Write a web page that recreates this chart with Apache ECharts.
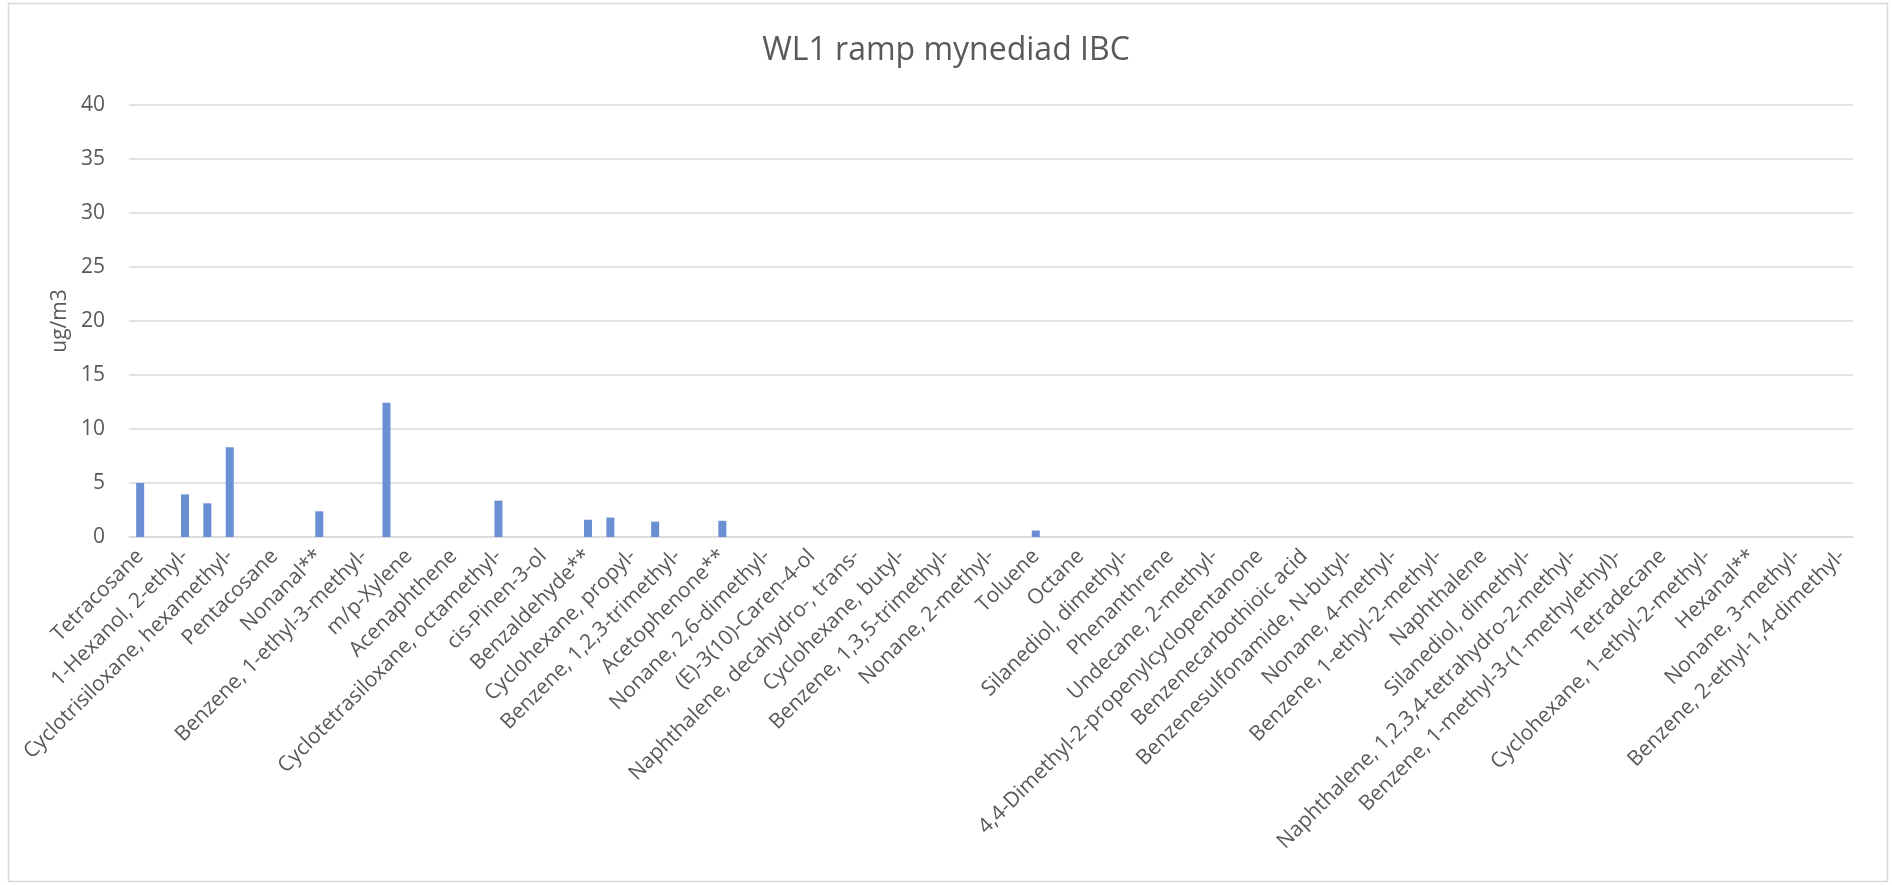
<!DOCTYPE html>
<html>
<head>
<meta charset="utf-8">
<script src="https://cdn.jsdelivr.net/npm/echarts@6/dist/echarts.min.js"></script>
<style>
html,body{margin:0;padding:0;background:#fff;}
#chart{width:1892px;height:885px;}
</style>
</head>
<body>
<div id="chart"></div>
<script>
// Labels shown on the axis (every other category)
const shownLabels = [
  "Tetracosane", "1-Hexanol, 2-ethyl-", "Cyclotrisiloxane, hexamethyl-", "Pentacosane",
  "Nonanal**", "Benzene, 1-ethyl-3-methyl-", "m/p-Xylene", "Acenaphthene",
  "Cyclotetrasiloxane, octamethyl-", "cis-Pinen-3-ol", "Benzaldehyde**", "Cyclohexane, propyl-",
  "Benzene, 1,2,3-trimethyl-", "Acetophenone**", "Nonane, 2,6-dimethyl-", "(E)-3(10)-Caren-4-ol",
  "Naphthalene, decahydro-, trans-", "Cyclohexane, butyl-", "Benzene, 1,3,5-trimethyl-", "Nonane, 2-methyl-",
  "Toluene", "Octane", "Silanediol, dimethyl-", "Phenanthrene",
  "Undecane, 2-methyl-", "4,4-Dimethyl-2-propenylcyclopentanone", "Benzenecarbothioic acid", "Benzenesulfonamide, N-butyl-",
  "Nonane, 4-methyl-", "Benzene, 1-ethyl-2-methyl-", "Naphthalene", "Silanediol, dimethyl-",
  "Naphthalene, 1,2,3,4-tetrahydro-2-methyl-", "Benzene, 1-methyl-3-(1-methylethyl)-", "Tetradecane", "Cyclohexane, 1-ethyl-2-methyl-",
  "Hexanal**", "Nonane, 3-methyl-", "Benzene, 2-ethyl-1,4-dimethyl-"
];
// Non-zero values: category index -> value (ug/m3)
const valueIndex = [0, 2, 3, 4, 8, 11, 16, 20, 21, 23, 26, 40];
const valueAmount = [5.0, 3.95, 3.12, 8.31, 2.38, 12.42, 3.37, 1.6, 1.8, 1.42, 1.5, 0.6];
const yTicks = {min: 0, max: 40, interval: 5};

// Build the 77 categories: labelled ones at even positions, unlabelled ones between
const categoryCount = shownLabels.length * 2 - 1;
const categories = [];
for (let i = 0; i < categoryCount; i++) {
  categories.push(i % 2 === 0 ? shownLabels[i / 2] : "");
}
const values = new Array(categoryCount).fill(0);
valueIndex.forEach((idx, k) => { values[idx] = valueAmount[k]; });

const font = "'Open Sans', 'Noto Sans', sans-serif";
const chart = echarts.init(document.getElementById('chart'), null, {renderer: 'canvas'});
chart.setOption({
  animation: false,
  backgroundColor: '#ffffff',
  title: {
    text: 'WL1 ramp mynediad IBC',
    left: 'center',
    top: 30,
    textStyle: {fontFamily: font, fontSize: 32, fontWeight: 'normal', color: '#595959'}
  },
  graphic: [{
    type: 'rect',
    shape: {x: 8.5, y: 3.5, width: 1879, height: 878},
    style: {fill: 'none', stroke: '#d9d9d9', lineWidth: 1.5},
    silent: true
  }],
  grid: {left: 129, right: 39, top: 105, bottom: 348, containLabel: false},
  xAxis: {
    type: 'category',
    data: categories,
    boundaryGap: true,
    axisLine: {show: true, lineStyle: {color: '#d9d9d9', width: 1.5}},
    axisTick: {show: false},
    axisLabel: {
      interval: 1,
      rotate: 45,
      margin: 16,
      fontFamily: font,
      fontSize: 21,
      color: '#595959'
    },
    splitLine: {show: false}
  },
  yAxis: {
    type: 'value',
    min: yTicks.min,
    max: yTicks.max,
    interval: yTicks.interval,
    name: 'ug/m3',
    nameLocation: 'middle',
    nameGap: 52,
    nameTextStyle: {fontFamily: font, fontSize: 21, color: '#595959'},
    axisLine: {show: false},
    axisTick: {show: false},
    axisLabel: {margin: 24, fontFamily: font, fontSize: 21, color: '#595959'},
    splitLine: {lineStyle: {color: '#d9d9d9', width: 1.5}}
  },
  series: [{
    type: 'bar',
    data: values,
    barWidth: 8,
    itemStyle: {color: '#6a8fd2'}
  }]
});
</script>
</body>
</html>
